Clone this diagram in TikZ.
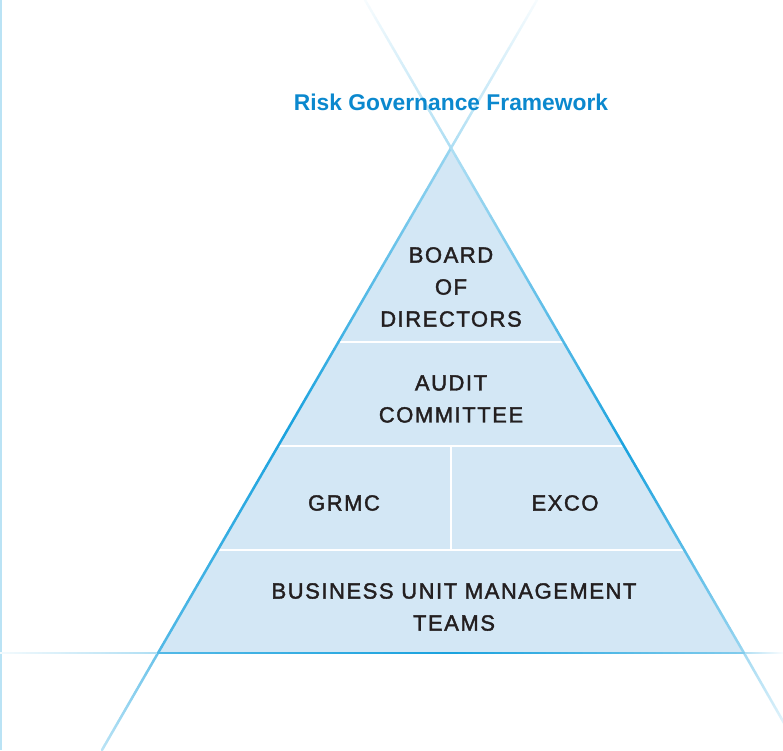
\documentclass[tikz,border=0pt]{standalone}
\usepackage{fontspec}
\setmainfont{Liberation Sans}
\newfontfamily\bodyfont[LetterSpace=7,FakeBold=1.8]{Liberation Sans}
\usetikzlibrary{calc}
\definecolor{edgeblue}{HTML}{1AA2DE}
\definecolor{fillblue}{HTML}{D3E7F5}
\definecolor{titleblue}{HTML}{0B88CE}
\definecolor{txt}{HTML}{231F20}
\newcommand{\gline}[5]{%
  \foreach \i in {1,...,40}{%
    \pgfmathsetmacro\ta{(\i-1)/40}%
    \pgfmathsetmacro\tb{\i/40}%
    \pgfmathsetmacro\pp{#4+(#5-#4)*(\i-0.5)/40}%
    \draw[line width=2.5pt, line cap=round, color=#3!\pp!white] ($(#1)!\ta!(#2)$) -- ($(#1)!\tb!(#2)$);
  }}
\tikzset{
  lvl/.style={font=\bodyfont\fontsize{22}{32}\selectfont, text=txt, align=center},
  divider/.style={white, line width=2pt}
}
\begin{document}
\begin{tikzpicture}[x=1pt,y=-1pt]
\useasboundingbox (0,0) rectangle (783,750);
\clip (0,0) rectangle (783,750);
% coordinates
\coordinate (A) at (451,148);
\coordinate (BL) at (158,653);
\coordinate (BR) at (744,653);
\coordinate (L0) at (537,0);
\coordinate (R0) at (365,0);
\coordinate (LE) at (102,750);
\coordinate (RE) at (800,751);
\coordinate (LM) at ($(A)!0.55!(BL)$);
\coordinate (RM) at ($(A)!0.6!(BR)$);
\coordinate (H0) at (0,653);
\coordinate (HM) at (451,653);
\coordinate (H1) at (783,653);
% fill
\fill[fillblue] (A) -- (BL) -- (BR) -- cycle;
% dividers
\coordinate (d1l) at (300,342); \coordinate (d1r) at (600,342);
\coordinate (d2l) at (250,446); \coordinate (d2r) at (650,446);
\coordinate (d3l) at (200,550); \coordinate (d3r) at (700,550);
\coordinate (v1) at (451,446); \coordinate (v2) at (451,550);
\begin{scope}
\clip (A) -- (BL) -- (BR) -- cycle;
\draw[divider] (d1l) -- (d1r);
\draw[divider] (d2l) -- (d2r);
\draw[divider] (d3l) -- (d3r);
\draw[divider] (v1) -- (v2);
\end{scope}
% left vertical line
\draw[line width=2pt, color=edgeblue!30!white] (1,0) -- (1,750);
% extension lines
\gline{L0}{A}{edgeblue}{3}{35}
\gline{R0}{A}{edgeblue}{3}{35}
\gline{BL}{LE}{edgeblue}{65}{30}
\gline{BR}{RE}{edgeblue}{40}{3}
\gline{H0}{BL}{edgeblue}{5}{35}
\gline{BR}{H1}{edgeblue}{35}{3}
% triangle edges
\gline{A}{LM}{edgeblue}{45}{100}
\gline{LM}{BL}{edgeblue}{100}{75}
\gline{A}{RM}{edgeblue}{35}{100}
\gline{RM}{BR}{edgeblue}{100}{45}
\gline{BL}{HM}{edgeblue}{75}{100}
\gline{HM}{BR}{edgeblue}{100}{55}
% texts
\node[font=\bfseries\fontsize{22.8}{26}\selectfont, text=titleblue] (title) at (451,102) {Risk Governance Framework};
\node[lvl] (board) at (451,287) {BOARD\\OF\\DIRECTORS};
\node[lvl] (audit) at (451,399) {AUDIT\\COMMITTEE};
\node[lvl] (grmc) at (344,503) {GRMC};
\node[lvl] (exco) at (565,503) {EXCO};
\node[lvl] (bu) at (454,607) {BUSINESS UNIT MANAGEMENT\\TEAMS};
\end{tikzpicture}
\end{document}
